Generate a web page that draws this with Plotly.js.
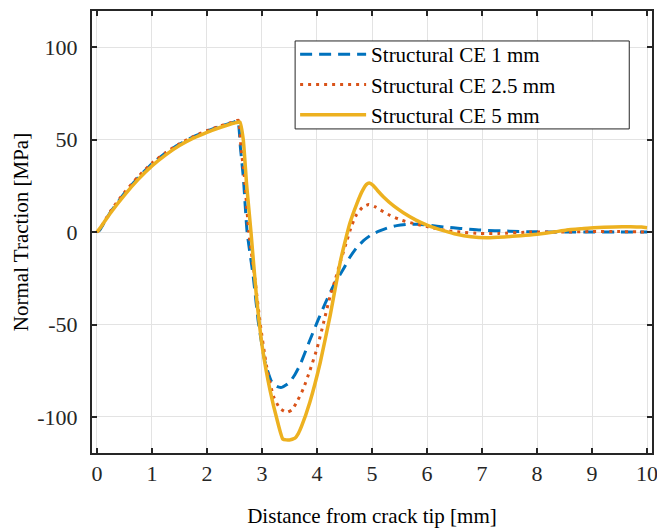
<!DOCTYPE html>
<html>
<head>
<meta charset="utf-8">
<script src="https://cdn.plot.ly/plotly-3.0.1.min.js"></script>
<style>html,body{margin:0;padding:0;background:#fff;}#chart{width:657px;height:528px;}</style>
</head>
<body>
<div id="chart"></div>
<script>
// Structural CE 1 mm
const x1 = [0, 0.05, 0.1, 0.25, 0.5, 0.75, 1.0, 1.25, 1.5, 1.75, 2.0, 2.25, 2.5, 2.56, 2.61, 2.66, 2.73, 2.84, 2.935, 3.056, 3.18, 3.27, 3.36, 3.45, 3.51, 3.6, 3.69, 3.85, 4.0, 4.15, 4.3, 4.48, 4.6, 4.72, 4.85, 5.0, 5.15, 5.3, 5.45, 5.63, 5.82, 6.0, 6.36, 6.6, 6.97, 7.5, 7.88, 8.5, 9.0, 9.5, 10.0];
const y1 = [0, 1, 3.5, 11, 21, 29.5, 37, 42.8, 47.6, 51.5, 54.7, 57.3, 59.6, 60.3, 45, 30, 0, -23.7, -48.9, -70.4, -81.2, -83.5, -84, -82.5, -81, -77, -72, -60, -49, -38.5, -29, -20, -13.5, -8.5, -4.5, -1.2, 0.8, 2.4, 3.5, 4.2, 4.2, 3.8, 2.6, 2.0, 1.1, 0.5, 0.2, 0, 0, 0, 0];
// Structural CE 2.5 mm
const x2 = [0, 0.05, 0.1, 0.25, 0.5, 0.75, 1.0, 1.25, 1.5, 1.75, 2.0, 2.25, 2.5, 2.57, 2.62, 2.68, 2.76, 2.87, 2.97, 3.08, 3.21, 3.33, 3.45, 3.55, 3.65, 3.75, 3.87, 4.0, 4.12, 4.24, 4.33, 4.42, 4.54, 4.63, 4.72, 4.83, 4.94, 5.05, 5.15, 5.33, 5.55, 5.82, 6.0, 6.36, 6.6, 6.97, 7.3, 7.88, 8.5, 9.0, 9.5, 10.0];
const y2 = [0, 1.5, 4, 11.5, 21.5, 30, 37.3, 43, 47.8, 51.7, 54.9, 57.5, 59.8, 60.5, 45, 30, 0, -25, -50, -72, -89, -95.5, -97.5, -96, -91, -84.8, -75, -63, -49, -34.5, -26, -16.5, -5, 3.5, 9.5, 13.5, 14.9, 13.8, 12, 9, 6.3, 4.2, 3, 0.8, 0, -0.7, -0.7, 0, 0, 0.3, 0.3, 0];
// Structural CE 5 mm
const x3 = [0, 0.1, 0.25, 0.5, 0.75, 1.0, 1.25, 1.5, 1.75, 2.0, 2.25, 2.5, 2.6, 2.66, 2.72, 2.8, 2.9, 3.02, 3.15, 3.27, 3.38, 3.5, 3.6, 3.66, 3.72, 3.87, 4.06, 4.24, 4.42, 4.52, 4.6, 4.72, 4.82, 4.9, 4.95, 5.02, 5.1, 5.21, 5.4, 5.57, 5.8, 6.0, 6.3, 6.54, 6.8, 7.09, 7.4, 7.7, 8.0, 8.3, 8.54, 8.8, 9.03, 9.4, 9.7, 9.9, 10.0];
const y3 = [0, 4, 10.5, 20, 28.5, 35.8, 41.8, 46.8, 50.8, 54, 56.7, 59, 59.5, 50, 26, 0, -35, -65, -86, -101, -112, -112.5, -111.5, -109, -105, -92, -70.4, -45, -16.5, -4, 5, 15, 22, 25.8, 26.5, 25.3, 22.5, 19, 14, 10.5, 6.5, 3.8, 0.8, -1.2, -2.5, -3, -2.6, -2, -1.2, 0, 1.1, 1.8, 2.4, 2.8, 2.9, 2.7, 2.4];

const xTicks = [0, 1, 2, 3, 4, 5, 6, 7, 8, 9, 10];
const yTicks = [-100, -50, 0, 50, 100];
const yTickText = ["-100", "-50", "0", "50", "100"];
const names = ["Structural CE 1 mm", "Structural CE 2.5 mm", "Structural CE 5 mm"];

const FONT = "'Liberation Serif', 'Times New Roman', serif";
const traces = [
  {x: x1, y: y1, name: names[0], mode: "lines", line: {color: "#0072BD", width: 3, dash: "12px,7px", shape: "spline", smoothing: 0.5}},
  {x: x2, y: y2, name: names[1], mode: "lines", line: {color: "#D95319", width: 3, dash: "3px,5px", shape: "spline", smoothing: 0.5}},
  {x: x3, y: y3, name: names[2], mode: "lines", line: {color: "#EDB120", width: 3.5, shape: "spline", smoothing: 0.4}}
];

const axisCommon = {
  showline: true, linecolor: "#262626", linewidth: 2, mirror: "ticks",
  ticks: "inside", ticklen: 5, tickwidth: 2, tickcolor: "#262626",
  showgrid: true, gridcolor: "#e3e3e3", gridwidth: 1, zeroline: false,
  ticklabeloverflow: "allow",
  tickfont: {family: FONT, size: 22, color: "#262626"}
};

const layout = {
  width: 657, height: 528,
  margin: {l: 92, r: 5, t: 11, b: 75},
  paper_bgcolor: "#ffffff", plot_bgcolor: "#ffffff",
  showlegend: true,
  legend: {
    x: 0.3627, y: 0.948, xanchor: "left", yanchor: "top",
    bgcolor: "rgba(0,0,0,0)", borderwidth: 0,
    font: {family: FONT, size: 21, color: "#000000"},
    itemwidth: 66, tracegroupgap: 0
  },
  shapes: [{
    type: "rect", xref: "paper", yref: "paper", layer: "above",
    x0: 0.3627, x1: 0.9594, y0: 0.7332, y1: 0.9322,
    line: {color: "#262626", width: 1}, fillcolor: "#ffffff"
  }],
  xaxis: Object.assign({}, axisCommon, {
    range: [-0.09, 10.09], tickvals: xTicks, ticktext: xTicks.map(String),
    ticklabelstandoff: 0,
    title: {text: "Distance from crack tip [mm]", font: {family: FONT, size: 21, color: "#000000"}, standoff: 27}
  }),
  yaxis: Object.assign({}, axisCommon, {
    range: [-119.5, 119.6], tickvals: yTicks, ticktext: yTickText,
    ticklabelstandoff: 8,
    title: {text: "Normal Traction [MPa]", font: {family: FONT, size: 21, color: "#000000"}, standoff: 3}
  })
};

Plotly.newPlot("chart", traces, layout, {displayModeBar: false, staticPlot: true});
</script>
</body>
</html>
